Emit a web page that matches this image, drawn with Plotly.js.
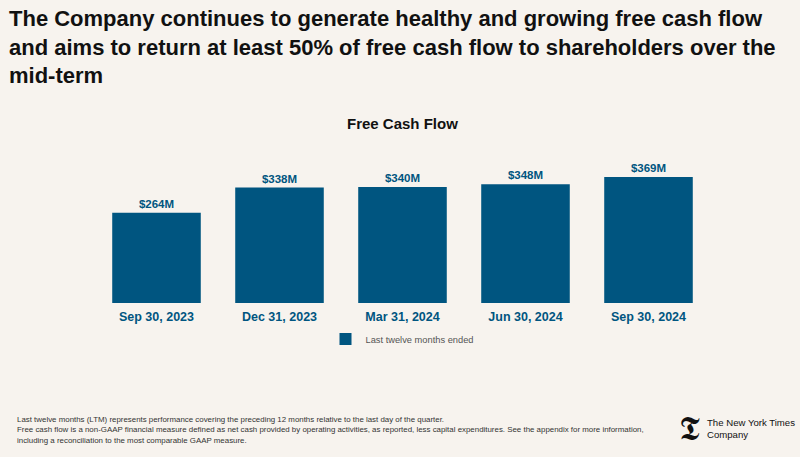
<!DOCTYPE html>
<html>
<head>
<meta charset="utf-8">
<script src="https://cdn.plot.ly/plotly-3.0.1.min.js"></script>
<style>
html,body{margin:0;padding:0;background:#F7F3EE;}
#chart{width:800px;height:457px;}
</style>
</head>
<body>
<div id="chart"></div>
<script>
const categories = ["Sep 30, 2023", "Dec 31, 2023", "Mar 31, 2024", "Jun 30, 2024", "Sep 30, 2024"];
const fcfValues = [264, 338, 340, 348, 369];
const fcfLabels = ["$264M", "$338M", "$340M", "$348M", "$369M"];
const seriesName = "Last twelve months ended";
const mainTitle = "The Company continues to generate healthy and growing free cash flow<br>and aims to return at least 50% of free cash flow to shareholders over the<br>mid-term";
const chartTitle = "Free Cash Flow";
const footnote = "Last twelve months (LTM) represents performance covering the preceding 12 months relative to the last day of the quarter.<br>Free cash flow is a non-GAAP financial measure defined as net cash provided by operating activities, as reported, less capital expenditures. See the appendix for more information,<br>including a reconciliation to the most comparable GAAP measure.";

const blue = "#005580";
const bg = "#F7F3EE";
const sans = "Liberation Sans, Arial, sans-serif";

const trace = {
  type: "bar",
  x: categories,
  y: fcfValues,
  name: seriesName,
  text: fcfLabels,
  textposition: "outside",
  cliponaxis: false,
  textfont: {family: sans, size: 11.5, color: blue, weight: "bold"},
  marker: {color: blue},
  hoverinfo: "skip",
  showlegend: true
};

const layout = {
  width: 800, height: 457,
  paper_bgcolor: bg, plot_bgcolor: bg,
  margin: {l: 95, r: 90, t: 150, b: 154},
  bargap: 0.28,
  showlegend: true,
  legend: {
    orientation: "h", x: 0.5, xanchor: "center", y: -0.235, yanchor: "middle",
    font: {family: sans, size: 9.3, color: "#555555"},
    bgcolor: "rgba(0,0,0,0)"
  },
  xaxis: {
    type: "category",
    showgrid: false, zeroline: false, showline: false, ticks: "",
    tickfont: {family: sans, size: 12.5, color: blue, weight: "bold"},
    ticklabelstandoff: 4
  },
  yaxis: {range: [0, 448], visible: false, fixedrange: true},
  annotations: [
    {text: mainTitle, xref: "paper", yref: "paper", x: -88/615, y: 1 + 146/153,
     xanchor: "left", yanchor: "top", align: "left", showarrow: false,
     font: {family: sans, size: 22, color: "#111111", weight: "bold"}},
    {text: chartTitle, xref: "paper", yref: "paper", x: 0.5, y: 1 + 26/153,
     xanchor: "center", yanchor: "middle", showarrow: false,
     font: {family: sans, size: 15, color: "#111111", weight: "bold"}},
    {text: footnote, xref: "paper", yref: "paper", x: -80/615, y: -110/153,
     xanchor: "left", yanchor: "top", align: "left", showarrow: false,
     font: {family: sans, size: 7.9, color: "#333333"}},
    {text: "𝕿", xref: "paper", yref: "paper", x: (689-95)/615, y: -125/153,
     xanchor: "center", yanchor: "middle", showarrow: false,
     font: {family: "DejaVu Serif, serif", size: 34, color: "#111111"}},
    {text: "The New York Times<br>Company", xref: "paper", yref: "paper", x: (705-95)/615, y: -125/153,
     xanchor: "left", yanchor: "middle", align: "left", showarrow: false,
     font: {family: sans, size: 9.6, color: "#111111"}}
  ]
};

Plotly.newPlot("chart", [trace], layout, {displayModeBar: false, staticPlot: true});
</script>
</body>
</html>
